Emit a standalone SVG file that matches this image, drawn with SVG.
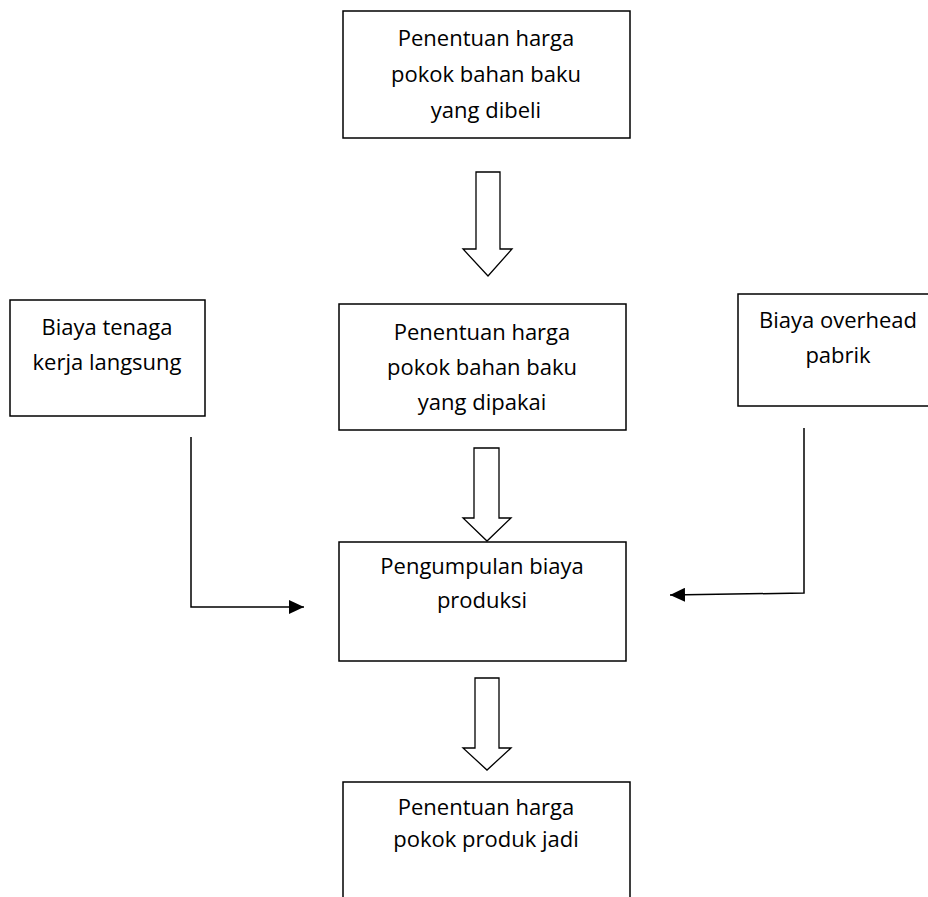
<svg xmlns="http://www.w3.org/2000/svg" width="928" height="897" viewBox="0 0 928 897">
<style>
.box{fill:#fff;stroke:#000;stroke-width:1.5}
.t{font-family:"Open Sans","Liberation Sans",sans-serif;font-size:22px;fill:#000;text-anchor:middle}
.bigarrow{fill:#fff;stroke:#000;stroke-width:1.3;stroke-linejoin:miter}
.line{fill:none;stroke:#000;stroke-width:1.5}
</style>
<defs>
<marker id="ah" markerWidth="15" markerHeight="14" refX="15" refY="7" orient="auto" markerUnits="userSpaceOnUse" viewBox="0 0 15 14">
<path d="M0,0 L15,7 L0,14 Z" fill="#000"/>
</marker>
</defs>
<rect width="928" height="897" fill="#fff"/>
<g id="node-dibeli">
<rect class="box" x="343" y="11" width="287" height="127"/>
<text class="t" x="486" y="46">Penentuan harga</text>
<text class="t" x="486" y="82">pokok bahan baku</text>
<text class="t" x="486" y="118">yang dibeli</text>
</g>
<g id="node-tenaga">
<rect class="box" x="10" y="300" width="195" height="116"/>
<text class="t" x="107" y="335">Biaya tenaga</text>
<text class="t" x="107" y="370">kerja langsung</text>
</g>
<g id="node-dipakai">
<rect class="box" x="339" y="304" width="287" height="126"/>
<text class="t" x="482" y="340">Penentuan harga</text>
<text class="t" x="482" y="375">pokok bahan baku</text>
<text class="t" x="482" y="410">yang dipakai</text>
</g>
<g id="node-overhead">
<rect class="box" x="738" y="294" width="200" height="112"/>
<text class="t" x="838" y="328">Biaya overhead</text>
<text class="t" x="838" y="363">pabrik</text>
</g>
<g id="node-pengumpulan">
<rect class="box" x="339" y="542" width="287" height="119"/>
<text class="t" x="482" y="574">Pengumpulan biaya</text>
<text class="t" x="482" y="608">produksi</text>
</g>
<g id="node-produkjadi">
<path class="line" d="M343,900 L343,782 L630,782 L630,900"/>
<text class="t" x="486" y="815">Penentuan harga</text>
<text class="t" x="486" y="847">pokok produk jadi</text>
</g>
<g id="connectors">
<path class="bigarrow" d="M476,172 L500,172 L500,249 L512,249 L488,276 L463,249 L476,249 Z"/>
<path class="bigarrow" d="M474,448 L499,448 L499,518 L511,518 L487,541 L463,518 L474,518 Z"/>
<path class="bigarrow" d="M475,678 L499,678 L499,748 L511,748 L487,770 L463,748 L475,748 Z"/>
<path class="line" d="M191,437 L191,607 L304,607" marker-end="url(#ah)"/>
<path class="line" d="M804,428 L804,593 L670,595" marker-end="url(#ah)"/>
</g>
</svg>
